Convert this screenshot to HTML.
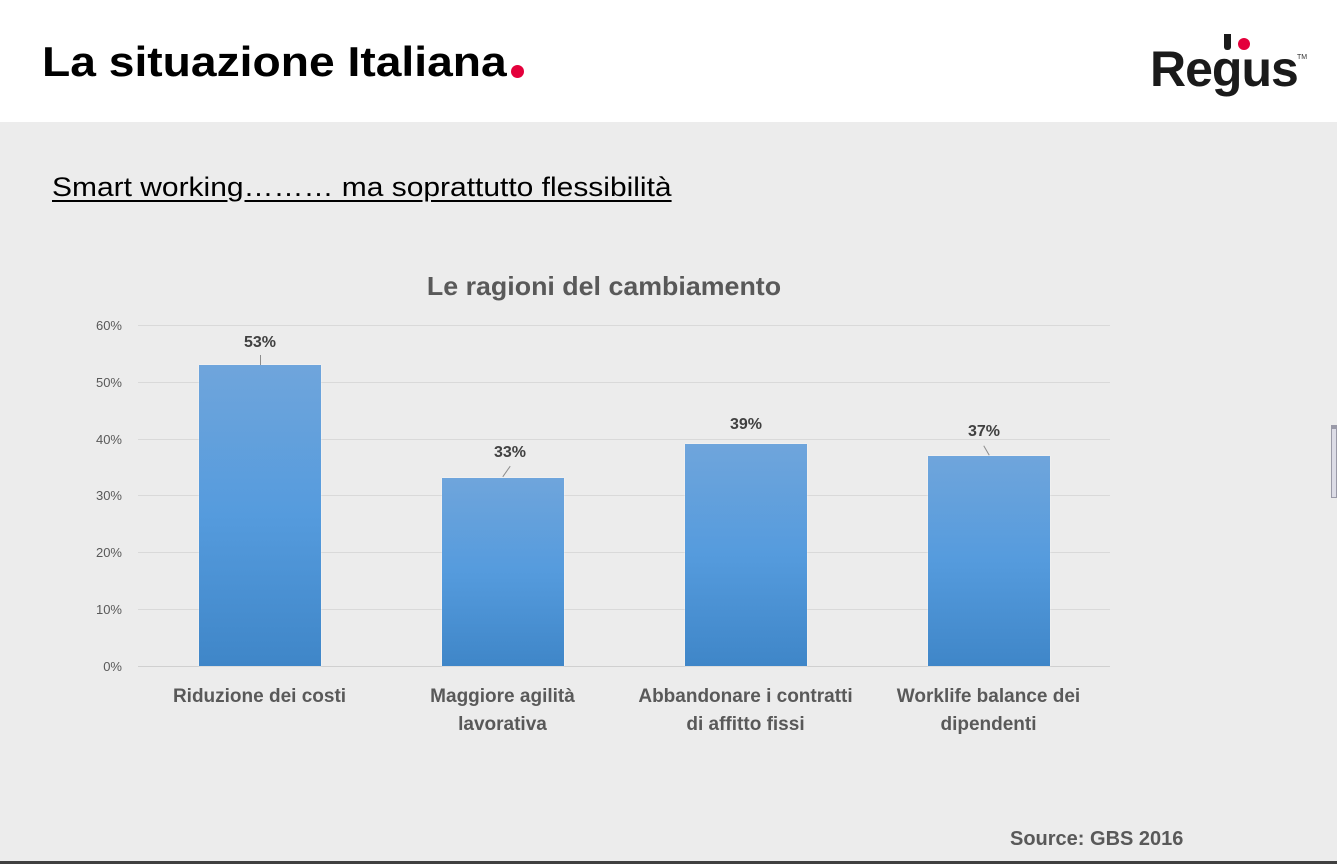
<!DOCTYPE html>
<html><head><meta charset="utf-8"><style>
body{margin:0;width:1337px;height:864px;position:relative;overflow:hidden;background:#ececec;font-family:"Liberation Sans",sans-serif}
.a{position:absolute}
.hdr{left:0;top:0;width:1337px;height:122px;background:#fff}
.grid{left:138px;width:972px;height:1px;background:#d9d9d9}
.yl{left:60px;width:62px;text-align:right;font-size:13px;color:#595959}
.bar{width:122px;background:linear-gradient(#6fa5dc,#559bdd 50%,#3f86c8);box-shadow:0 0 2px rgba(255,255,255,.8)}
.val{width:122px;text-align:center;font-size:16px;font-weight:bold;color:#404040}
.ld{width:1px;background:#8c8c8c}
.xl{width:243px;text-align:center;font-size:19px;font-weight:bold;color:#595959;line-height:28px}
</style></head><body>
<div class="a hdr"></div>
<div class="a" style="left:42px;top:38px;font-size:42px;font-weight:bold;color:#000;white-space:nowrap;transform-origin:0 0;transform:scaleX(1.10)">La situazione Italiana</div>
<div class="a" style="left:511px;top:65px;width:13px;height:13px;border-radius:50%;background:#e4003b"></div>
<div class="a" style="left:1150px;top:40px;font-size:50px;font-weight:bold;color:#1a1a1a;letter-spacing:-1px">Regus</div>
<div class="a" style="left:1297px;top:54px;font-size:7px;color:#333">TM</div>
<div class="a" style="left:1238px;top:38px;width:12px;height:12px;border-radius:50%;background:#e4003b"></div>
<div class="a" style="left:1224px;top:34px;width:7px;height:16px;background:#1a1a1a;border-radius:0 0 3px 3px"></div>
<div class="a" style="left:52px;top:172px;font-size:27px;color:#000;white-space:nowrap;text-decoration:underline;text-underline-offset:4px;transform-origin:0 0;transform:scaleX(1.11)">Smart working……… ma soprattutto flessibilità</div>
<div class="a" style="left:0;top:271px;width:1208px;text-align:center;font-size:26px;font-weight:bold;color:#595959;transform:scaleX(1.03)">Le ragioni del cambiamento</div>

<div class="a grid" style="top:325px"></div>
<div class="a grid" style="top:382px"></div>
<div class="a grid" style="top:439px"></div>
<div class="a grid" style="top:495px"></div>
<div class="a grid" style="top:552px"></div>
<div class="a grid" style="top:609px"></div>
<div class="a grid" style="top:666px;background:#d0d0d0"></div>
<div class="a yl" style="top:318px">60%</div>
<div class="a yl" style="top:375px">50%</div>
<div class="a yl" style="top:432px">40%</div>
<div class="a yl" style="top:488px">30%</div>
<div class="a yl" style="top:545px">20%</div>
<div class="a yl" style="top:602px">10%</div>
<div class="a yl" style="top:659px">0%</div>

<div class="a bar" style="left:199px;top:365px;height:301px"></div>
<div class="a bar" style="left:442px;top:478px;height:188px"></div>
<div class="a bar" style="left:685px;top:444px;height:222px"></div>
<div class="a bar" style="left:928px;top:456px;height:210px"></div>

<div class="a val" style="left:199px;top:334px">53%</div>
<div class="a ld" style="left:260px;top:355px;height:10px"></div>
<div class="a val" style="left:449px;top:444px">33%</div>
<div class="a ld" style="left:506px;top:465px;height:13px;transform:rotate(35deg)"></div>
<div class="a val" style="left:685px;top:416px">39%</div>
<div class="a val" style="left:923px;top:423px">37%</div>
<div class="a ld" style="left:986px;top:445px;height:11px;transform:rotate(-30deg)"></div>

<div class="a xl" style="left:138px;top:683px">Riduzione dei costi</div>
<div class="a xl" style="left:381px;top:683px">Maggiore agilità<br>lavorativa</div>
<div class="a xl" style="left:624px;top:683px">Abbandonare i contratti<br>di affitto fissi</div>
<div class="a xl" style="left:867px;top:683px">Worklife balance dei<br>dipendenti</div>

<div class="a" style="left:1010px;top:828px;font-size:20px;font-weight:bold;color:#595959">Source: GBS 2016</div>
<div class="a" style="left:0;top:861px;width:1337px;height:3px;background:#404040"></div>
<div class="a" style="left:1331px;top:425px;width:6px;height:73px;background:#dcdce6;border:1px solid #9a9aa8;border-top:4px solid #9a9aa8;box-sizing:border-box"></div>
</body></html>
